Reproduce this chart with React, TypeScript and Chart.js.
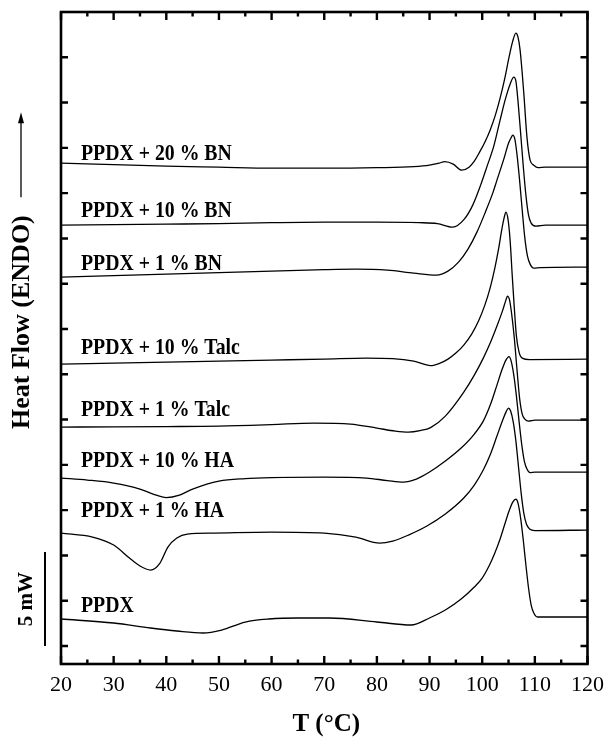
import { useEffect, useRef } from "react";
import { Chart, registerables } from "chart.js";

Chart.register(...registerables);

// Temperatures (°C) and heat flow (arbitrary units, curves offset vertically)
const T_BN20 = [20, 30, 40, 50, 60, 70, 80, 87, 90, 91.8, 92.9, 94.5, 96.1, 97.5, 98.5, 99.5, 100.5, 101.5, 102.5, 103.4, 104.3, 105.1, 105.8, 106.4, 106.8, 107.2, 107.9, 108.5, 109.1, 109.8, 110.6, 112, 120];
const HF_BN20 = [483, 481.5, 480, 479, 478, 478, 478.5, 479.5, 481, 483, 484.5, 482, 476, 479, 485, 494, 504, 516, 531, 548, 568, 589, 605, 613, 609, 596, 553, 509, 486, 481, 478.5, 479, 479];

const T_BN10 = [20, 30, 40, 50, 60, 70, 80, 88, 91.5, 94.4, 96.6, 98.2, 99.7, 101, 102.2, 103.4, 104.4, 105.3, 106, 106.4, 106.8, 107.3, 107.8, 108.3, 108.8, 109.3, 110.2, 112, 120];
const HF_BN10 = [421, 421.5, 422, 422.5, 423.5, 424, 424, 423.5, 422.5, 419, 427, 441, 461, 481, 500, 526, 547, 562, 569, 565, 545, 513, 480, 451, 431, 423, 420, 421, 421];

const T_BN1 = [20, 30, 40, 50, 60, 70, 76, 82, 87, 91.3, 93.5, 95.5, 97.3, 99, 100.6, 102, 102.8, 104.1, 105, 105.5, 105.8, 106.2, 106.6, 107.1, 107.6, 108.1, 108.6, 109.1, 109.8, 111, 120];
const HF_BN1 = [369, 370.5, 372, 373.5, 375, 376.5, 377, 376, 373, 371, 375, 384, 397, 414, 434, 453, 466, 487, 503, 508.5, 511, 507, 492, 466, 436, 408, 390, 382, 378, 378.5, 379];

const T_TALC10 = [20, 30, 40, 50, 60, 70, 78, 83, 87, 90.2, 92, 93.5, 95, 96.5, 98, 99.3, 100.5, 101.5, 102.4, 103.1, 103.7, 104.15, 104.5, 104.9, 105.3, 105.7, 106.1, 106.5, 107, 107.6, 109, 120];
const HF_TALC10 = [282, 283, 284, 285, 286, 287, 288, 287.5, 285, 280.5, 283, 287, 293, 301, 312, 325, 341, 358, 378, 397, 416, 428, 434, 427, 406, 371, 338, 310, 294, 288, 286.5, 287];

const T_TALC1 = [20, 30, 40, 50, 60, 68, 75, 80, 83.5, 86, 88.2, 90.2, 93, 96.5, 98.5, 100.3, 101.6, 102.8, 103.9, 104.5, 104.8, 105.2, 105.6, 106.1, 106.6, 107.1, 107.6, 108.1, 108.8, 110, 120];
const HF_TALC1 = [219, 219.2, 219.5, 220, 221.5, 223, 222, 218, 215, 214, 215.5, 218.5, 230, 254, 271, 289, 304, 320, 336, 346, 350, 346, 332, 308, 277, 248, 232, 227, 225, 226, 226];

const T_HA10 = [20, 25, 30, 35, 37.5, 40, 42.5, 45, 50, 55, 60, 70, 78, 82, 85, 87.5, 90, 93, 96, 98.5, 100.3, 101.6, 102.8, 103.8, 104.5, 105.1, 105.5, 106, 106.5, 107, 107.5, 108, 108.5, 109.1, 110, 120];
const HF_HA10 = [168, 166, 163, 157, 152, 148.5, 151, 157, 165, 167.5, 168.5, 169, 168, 165.5, 164, 167, 174, 185, 198, 212, 226, 242, 261, 277, 286, 289.5, 285, 271, 250, 225, 202, 185, 177, 173.5, 174, 174];

const T_HA1 = [20, 26, 30, 33, 35, 37, 38.8, 40.3, 42, 44, 49, 60, 70, 76, 80.5, 83, 86, 89.5, 93, 96.5, 98.5, 100.2, 101.5, 102.8, 103.9, 104.6, 105, 105.4, 105.9, 106.4, 106.9, 107.4, 107.9, 108.4, 109, 110, 120];
const HF_HA1 = [113, 109, 101, 88, 80, 76, 83, 99, 108, 112, 113, 114, 113, 109, 103, 105, 111, 120, 132, 148, 161, 176, 191, 210, 226, 235, 238, 235, 224, 205, 179, 153, 133, 122, 117, 115.5, 116];

const T_PPDX = [20, 30, 37, 42, 47, 50.5, 55, 59.5, 65, 71, 80, 86.5, 90, 93, 96, 98.5, 100, 101.3, 102.4, 103.4, 104.3, 105.1, 105.8, 106.4, 106.8, 107.3, 107.8, 108.3, 108.8, 109.3, 109.8, 110.5, 112, 120];
const HF_PPDX = [27, 23, 18, 15, 13, 16, 24, 27, 28, 28, 24, 21, 28, 36, 47, 59, 68, 80, 93, 107, 122, 135, 144, 147, 143, 128, 106, 81, 58, 41, 33, 29, 29, 29];

const SERIES_NAMES = [
  "PPDX + 20 % BN",
  "PPDX + 10 % BN",
  "PPDX + 1 % BN",
  "PPDX + 10 % Talc",
  "PPDX + 1 % Talc",
  "PPDX + 10 % HA",
  "PPDX + 1 % HA",
  "PPDX",
];
const SERIES_T = [T_BN20, T_BN10, T_BN1, T_TALC10, T_TALC1, T_HA10, T_HA1, T_PPDX];
const SERIES_HF = [HF_BN20, HF_BN10, HF_BN1, HF_TALC10, HF_TALC1, HF_HA10, HF_HA1, HF_PPDX];

// label anchors (data units)
const LABEL_T = 23.8;
const LABEL_HF = [486, 429, 376, 292, 230, 179, 129, 34];

const X_MIN = 20;
const X_MAX = 120;
const X_STEP = 10;
const Y_MIN = -18;
const Y_MAX = 634.2;
const Y_STEP = 45.3;
const SCALE_BAR = [0, 94]; // 5 mW
const X_TITLE = "T (°C)";
const Y_TITLE = "Heat Flow (ENDO)";
const SCALE_LABEL = "5 mW";

function drawText(ctx: CanvasRenderingContext2D, text: string, x: number, y: number, font: string, sx: number, rot: number, align: CanvasTextAlign) {
  ctx.save();
  ctx.translate(x, y);
  ctx.rotate(rot);
  ctx.scale(sx, 1);
  ctx.font = font;
  ctx.textAlign = align;
  ctx.textBaseline = "alphabetic";
  ctx.fillStyle = "#000";
  ctx.fillText(text, 0, 0);
  ctx.restore();
}

const decor = {
  id: "decor",
  afterDraw(chart: any) {
    const { ctx, chartArea: a, scales } = chart;
    const xs = scales.x;
    const ys = scales.y;
    ctx.save();
    ctx.strokeStyle = "#000";
    ctx.fillStyle = "#000";
    ctx.lineCap = "butt";

    // ticks
    ctx.lineWidth = 2.4;
    const majors: number[] = xs.ticks.map((t: any) => t.value);
    const drawXTick = (v: number, len: number) => {
      const px = xs.getPixelForValue(v);
      ctx.beginPath();
      ctx.moveTo(px, a.bottom);
      ctx.lineTo(px, a.bottom - len);
      ctx.moveTo(px, a.top);
      ctx.lineTo(px, a.top + len);
      ctx.stroke();
    };
    majors.forEach((v, i) => {
      drawXTick(v, 8);
      if (i < majors.length - 1) drawXTick((v + majors[i + 1]) / 2, 4.5);
    });
    ys.ticks
      .map((t: any) => t.value)
      .filter((v: number) => v > -1 && v < Y_MAX - 5)
      .forEach((v: number) => {
        const py = ys.getPixelForValue(v);
        ctx.beginPath();
        ctx.moveTo(a.left, py);
        ctx.lineTo(a.left + 7, py);
        ctx.moveTo(a.right, py);
        ctx.lineTo(a.right - 7, py);
        ctx.stroke();
      });

    // frame
    ctx.lineWidth = 2.6;
    ctx.strokeRect(a.left, a.top, a.right - a.left, a.bottom - a.top);

    // series labels
    const lx = xs.getPixelForValue(LABEL_T);
    SERIES_NAMES.forEach((name, i) => {
      drawText(ctx, name, lx, ys.getPixelForValue(LABEL_HF[i]), "bold 23px 'Liberation Serif'", 0.86, 0, "left");
    });

    // x title
    drawText(ctx, X_TITLE, (a.left + a.right) / 2 + 2, 731, "bold 25px 'Liberation Serif'", 1, 0, "center");

    // y title + arrow
    drawText(ctx, Y_TITLE, 29, ys.getPixelForValue(324), "bold 26px 'Liberation Serif'", 1, -Math.PI / 2, "center");
    const ax = 21;
    const aTop = ys.getPixelForValue(534);
    const aBot = ys.getPixelForValue(449);
    ctx.lineWidth = 1.3;
    ctx.beginPath();
    ctx.moveTo(ax, aBot);
    ctx.lineTo(ax, aTop + 8);
    ctx.stroke();
    ctx.beginPath();
    ctx.moveTo(ax, aTop);
    ctx.lineTo(ax - 3, aTop + 11);
    ctx.lineTo(ax + 3, aTop + 11);
    ctx.closePath();
    ctx.fill();

    // scale bar
    ctx.lineWidth = 2;
    const sx = 45;
    ctx.beginPath();
    ctx.moveTo(sx, ys.getPixelForValue(SCALE_BAR[0]));
    ctx.lineTo(sx, ys.getPixelForValue(SCALE_BAR[1]));
    ctx.stroke();
    drawText(ctx, SCALE_LABEL, 32, ys.getPixelForValue((SCALE_BAR[0] + SCALE_BAR[1]) / 2), "bold 21px 'Liberation Serif'", 1, -Math.PI / 2, "center");

    ctx.restore();
  },
};

export default function App() {
  const ref = useRef<HTMLCanvasElement | null>(null);
  useEffect(() => {
    if (!ref.current) return;
    const datasets = SERIES_NAMES.map((name, i) => ({
      label: name,
      data: SERIES_T[i].map((t, j) => ({ x: t, y: SERIES_HF[i][j] })),
      borderColor: "#000",
      borderWidth: 1.3,
      pointRadius: 0,
      fill: false,
      cubicInterpolationMode: "monotone" as const,
    }));
    const chart = new Chart(ref.current, {
      type: "line",
      data: { datasets },
      options: {
        responsive: false,
        animation: false,
        devicePixelRatio: 1,
        layout: { padding: { top: 12, right: 21, left: 0, bottom: 0 } },
        plugins: { legend: { display: false }, tooltip: { enabled: false } },
        scales: {
          x: {
            type: "linear",
            min: X_MIN,
            max: X_MAX,
            grid: { display: false, drawTicks: false },
            border: { display: false },
            ticks: {
              stepSize: X_STEP,
              color: "#000",
              font: { family: "'Liberation Serif'", size: 22 },
              padding: 8,
              maxRotation: 0,
              autoSkip: false,
            },
            afterFit: (s: any) => {
              s.height = 76;
            },
          },
          y: {
            type: "linear",
            min: Y_MIN,
            max: Y_MAX,
            grid: { display: false, drawTicks: false },
            border: { display: false },
            ticks: { display: false, stepSize: Y_STEP },
            afterFit: (s: any) => {
              s.width = 61;
            },
          },
        },
      },
      plugins: [decor],
    });
    return () => chart.destroy();
  }, []);
  return (
    <div style={{ position: "absolute", left: 0, top: 0, width: 612, height: 740, background: "#fff" }}>
      <canvas ref={ref} width={612} height={740} style={{ display: "block" }} />
    </div>
  );
}
